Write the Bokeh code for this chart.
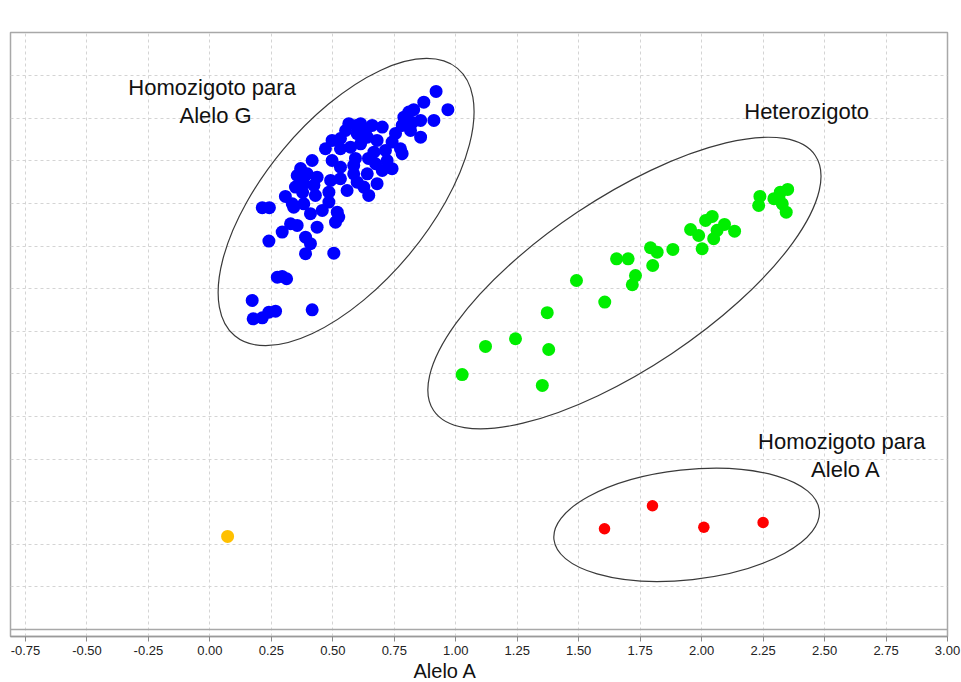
from bokeh.plotting import figure
from bokeh.models import Range1d, FixedTicker, Span, Title, PrintfTickFormatter
from bokeh.core.properties import value
from bokeh.embed import file_html
from bokeh.resources import INLINE

# ---------------- data ----------------
blue_x = [0.920, 0.968, 0.870, 0.829, 0.789, 0.809, 0.857, 0.911, 0.782, 0.816,
          0.857, 0.565, 0.613, 0.660, 0.701, 0.552, 0.599, 0.640, 0.680, 0.497,
          0.470, 0.531, 0.572, 0.613, 0.741, 0.775, 0.714, 0.667, 0.782, 0.416,
          0.497, 0.531, 0.585, 0.674, 0.721, 0.741, 0.701, 0.640, 0.585, 0.531,
          0.355, 0.396, 0.436, 0.382, 0.423, 0.348, 0.680, 0.626, 0.558, 0.646,
          0.599, 0.429, 0.484, 0.307, 0.335, 0.382, 0.484, 0.213, 0.242, 0.341,
          0.409, 0.457, 0.518, 0.524, 0.511, 0.328, 0.355, 0.294, 0.436, 0.240,
          0.389, 0.409, 0.389, 0.504, 0.274, 0.312, 0.294, 0.172, 0.176, 0.213,
          0.240, 0.267, 0.416, 0.369, 0.491, 0.592, 0.645, 0.755, 0.633, 0.824,
          0.596, 0.531, 0.377]
blue_y = [3.157, 3.050, 3.094, 3.050, 3.006, 3.036, 2.987, 2.987, 2.958, 2.928,
          2.889, 2.968, 2.968, 2.958, 2.948, 2.928, 2.909, 2.889, 2.870, 2.870,
          2.821, 2.821, 2.830, 2.850, 2.860, 2.821, 2.811, 2.801, 2.792, 2.752,
          2.752, 2.713, 2.723, 2.733, 2.752, 2.704, 2.694, 2.674, 2.674, 2.645,
          2.664, 2.674, 2.654, 2.616, 2.606, 2.596, 2.616, 2.596, 2.576, 2.547,
          2.625, 2.547, 2.566, 2.541, 2.498, 2.498, 2.508, 2.475, 2.475, 2.478,
          2.440, 2.459, 2.449, 2.420, 2.390, 2.381, 2.371, 2.332, 2.361, 2.279,
          2.302, 2.264, 2.205, 2.208, 2.067, 2.058, 2.072, 1.931, 1.823, 1.829,
          1.862, 1.868, 1.876, 2.705, 2.635, 2.764, 2.764, 2.911, 2.928, 2.975,
          2.958, 2.881, 2.565]

green_x = [1.026, 1.121, 1.243, 1.352, 1.378, 1.372, 1.491, 1.606, 1.654, 1.701,
           1.731, 1.718, 1.792, 1.819, 1.801, 1.883, 2.002, 1.955, 1.988, 2.016,
           2.043, 2.049, 2.063, 2.093, 2.134, 2.237, 2.232, 2.294, 2.314, 2.350,
           2.328, 2.344, 2.320]
green_y = [1.496, 1.661, 1.706, 1.432, 1.643, 1.859, 2.048, 1.921, 2.175, 2.175,
           2.077, 2.023, 2.240, 2.214, 2.136, 2.230, 2.234, 2.347, 2.312, 2.400,
           2.424, 2.293, 2.342, 2.377, 2.337, 2.541, 2.488, 2.528, 2.537, 2.582,
           2.498, 2.449, 2.566]

red_x = [1.605, 1.800, 2.009, 2.250]
red_y = [0.591, 0.726, 0.600, 0.628]

orange_x = [0.072]
orange_y = [0.546]

# cluster ellipses (centre in data units)
ell_x = [0.554, 1.686, 1.939]
ell_y = [2.508, 2.033, 0.614]
ell_w = [348, 459, 267]     # screen px
ell_h = [164, 170, 110]     # screen px
ell_angle = [50.2, 33.75, 6.3]  # degrees

# cluster labels
lab_text = ["Homozigoto para", "Alelo G", "Heterozigoto", "Homozigoto para", "Alelo A"]
lab_x = [0.009, 0.023, 2.427, 2.570, 2.587]
lab_y = [3.181, 3.016, 3.042, 1.105, 0.937]

x_ticks = [-0.75, -0.5, -0.25, 0.0, 0.25, 0.5, 0.75, 1.0, 1.25, 1.5, 1.75,
           2.0, 2.25, 2.5, 2.75, 3.0]
y_grid = [0.25, 0.5, 0.75, 1.0, 1.25, 1.5, 1.75, 2.0, 2.25, 2.5, 2.75, 3.0, 3.25]
x_label = "Alelo A"

FONT = "Liberation Sans"

p = figure(width=961, height=682, output_backend="svg", toolbar_location=None,
           x_range=Range1d(-0.811, 3.0), y_range=Range1d(-0.041, 3.503),
           min_border_top=32, min_border_left=10, min_border_right=14,
           min_border_bottom=46)

p.background_fill_color = "white"
p.border_fill_color = "white"
p.outline_line_color = "#a8a8a8"
p.outline_line_width = 1.5

# grid
p.xgrid.ticker = FixedTicker(ticks=x_ticks)
p.ygrid.ticker = FixedTicker(ticks=y_grid)
for g in (p.xgrid, p.ygrid):
    g.grid_line_color = "#d4d4d4"
    g.grid_line_dash = "3 3"
    g.grid_line_width = 1

p.yaxis.visible = False

ax = p.xaxis[0]
ax.ticker = FixedTicker(ticks=x_ticks)
ax.formatter = PrintfTickFormatter(format="%.2f")
ax.axis_line_color = "#9a9a9a"
ax.axis_line_width = 1.5
ax.major_tick_line_color = "#8a8a8a"
ax.major_tick_out = 5
ax.major_tick_in = 0
ax.minor_tick_line_color = None
ax.major_label_text_font = FONT
ax.major_label_text_font_size = "13px"
ax.major_label_text_color = "#222222"
ax.major_label_standoff = 4

p.add_layout(Span(location=0, dimension="width", line_color="#a8a8a8", line_width=1.5))

p.add_layout(Title(text=x_label, align="left", offset=403, text_font=FONT,
                   text_font_size="20px", text_font_style="normal",
                   text_color="#111111", standoff=0), "below")

# ellipses
p.ellipse(x=ell_x, y=ell_y, width=ell_w, height=ell_h, angle=ell_angle,
          width_units="screen", height_units="screen", angle_units="deg",
          fill_color=None, line_color="#3a3a3a", line_width=1.2)

# points
p.scatter(blue_x, blue_y, size=13, color="#0000ff", line_color=None)
p.scatter(green_x, green_y, size=13, color="#00ee00", line_color=None)
p.scatter(red_x, red_y, size=11.5, color="#ff0000", line_color=None)
p.scatter(orange_x, orange_y, size=13, color="#ffc000", line_color=None)

# labels
p.text(x=lab_x, y=lab_y, text=lab_text, text_align="center", text_baseline="middle",
       text_font=value(FONT), text_font_size="22px", text_color="#111111")

open("out.html", "w").write(file_html(p, INLINE))
